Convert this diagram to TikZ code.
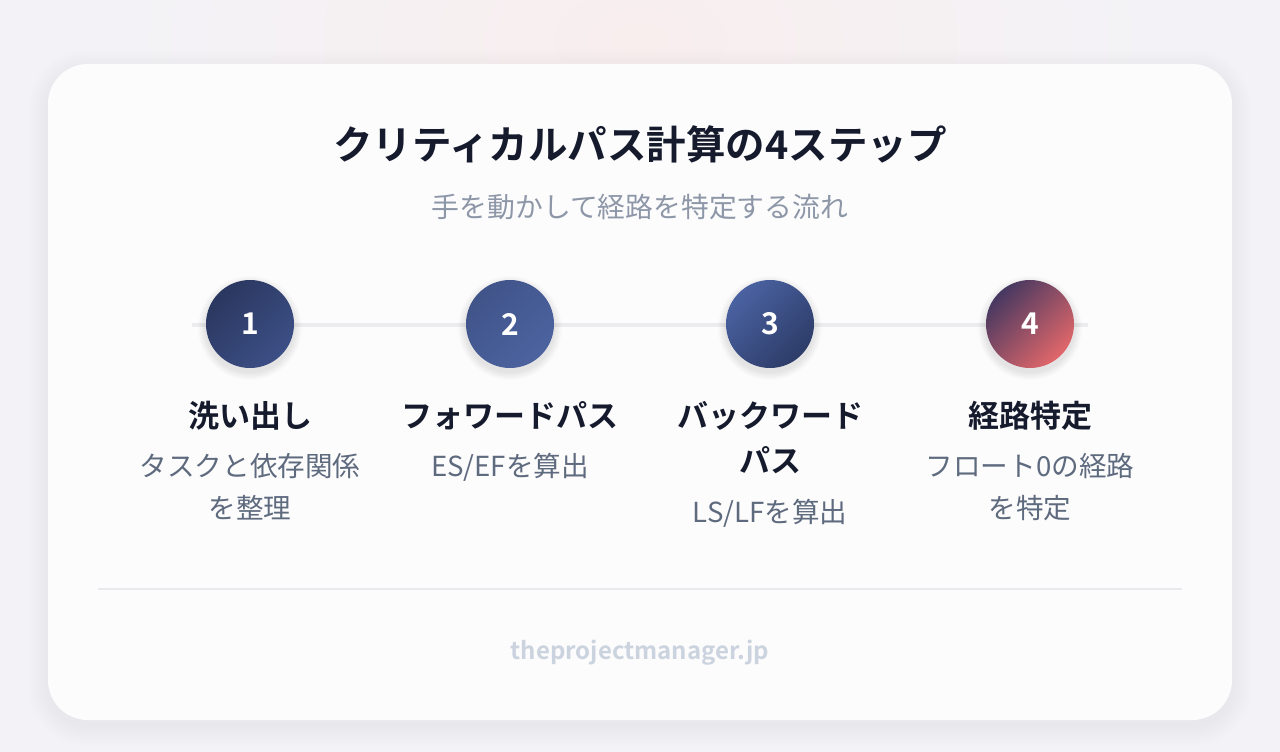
\documentclass[tikz,border=0pt]{standalone}
\usepackage{fontspec}
\setmainfont{Noto Sans CJK JP}[BoldFont={Noto Sans CJK JP Bold}]
\newfontfamily\boldfont{Noto Sans CJK JP Bold}
\usetikzlibrary{positioning}

\definecolor{bgcol}{HTML}{F3F3F7}
\definecolor{glowcol}{HTML}{F8EEEE}
\definecolor{cardcol}{HTML}{FDFCFD}
\definecolor{inkcol}{HTML}{151B2D}
\definecolor{subcol}{HTML}{8D97A8}
\definecolor{desccol}{HTML}{5E6A7E}
\definecolor{footcol}{HTML}{CBD3DF}
\definecolor{railcol}{HTML}{ECECEE}
\definecolor{rulecol}{HTML}{E9E9ED}
\definecolor{navyA}{HTML}{2A375F}
\definecolor{navyB}{HTML}{3C4F86}
\definecolor{blueA}{HTML}{405489}
\definecolor{blueB}{HTML}{4C63A0}
\definecolor{blueC}{HTML}{4A62A1}
\definecolor{navyC}{HTML}{2D3C68}
\definecolor{plumA}{HTML}{463861}
\definecolor{coralB}{HTML}{E2676A}

\begin{document}
\begin{tikzpicture}[x=1pt,y=-1pt]
\tikzset{
  stepdot/.style={circle,minimum size=88pt,inner sep=0pt,text=white,
    font=\boldfont\fontsize{30}{30}\selectfont},
  dotshade/.style 2 args={top color=#1,bottom color=#2,shading angle=45},
  steptitle/.style={anchor=base,align=center,text=inkcol,font=\boldfont\fontsize{31}{45}\selectfont},
  stepdesc/.style={anchor=base,align=center,text=desccol,font=\fontsize{27.6}{42}\selectfont}
}
\useasboundingbox (0,0) rectangle (1280,752);
\fill[bgcol] (0,0) rectangle (1280,752);
\shade[inner color=glowcol,outer color=bgcol] (640,40) ellipse (520 and 320);
\foreach \s in {2,4,...,20}
  \fill[black,opacity=0.004,rounded corners=40pt+\s pt] (48-\s,64-\s+6) rectangle (1232+\s,720+\s+6);
\fill[cardcol,rounded corners=40pt] (48,64) rectangle (1232,720);

\node[anchor=base,text=inkcol,font=\boldfont\fontsize{39.5}{40}\selectfont] (title) at (640,159) {クリティカルパス計算の4ステップ};
\node[anchor=base,text=subcol,font=\fontsize{27.8}{28}\selectfont] (subtitle) at (640,217) {手を動かして経路を特定する流れ};

\coordinate (railL) at (192,325);
\coordinate (railR) at (1088,325);
\draw[railcol,line width=4pt] (railL) -- (railR);

\foreach \px in {250,510,770,1030}
  \foreach \s in {1,...,8}
    \fill[black,opacity=0.011] (\px,328) circle (44+\s);

\node[stepdot,dotshade={navyA}{navyB}] (s1) at (250,324) {1};
\node[stepdot,dotshade={blueA}{blueB}] (s2) at (510,324) {2};
\node[stepdot,dotshade={blueC}{navyC}] (s3) at (770,324) {3};
\node[stepdot,dotshade={plumA}{coralB}] (s4) at (1030,324) {4};

\node[steptitle] (t1) at (250,427.4) {洗い出し};
\node[steptitle] (t2) at (510,427.4) {フォワードパス};
\node[steptitle] (t3) at (770,472.4) {バックワード\\パス};
\node[steptitle] (t4) at (1030,427.4) {経路特定};

\node[stepdesc] (d1) at (250,518) {タスクと依存関係\\を整理};
\node[stepdesc] (d2) at (510,476) {ES/EFを算出};
\node[stepdesc] (d3) at (770,522) {LS/LFを算出};
\node[stepdesc] (d4) at (1030,518) {フロート0の経路\\を特定};

\draw[rulecol,line width=1.5pt] (98,589) -- (1182,589);
\node[anchor=base,text=footcol,font=\boldfont\fontsize{24}{24}\selectfont] (site) at (640,659) {theprojectmanager.jp};
\end{tikzpicture}
\end{document}
